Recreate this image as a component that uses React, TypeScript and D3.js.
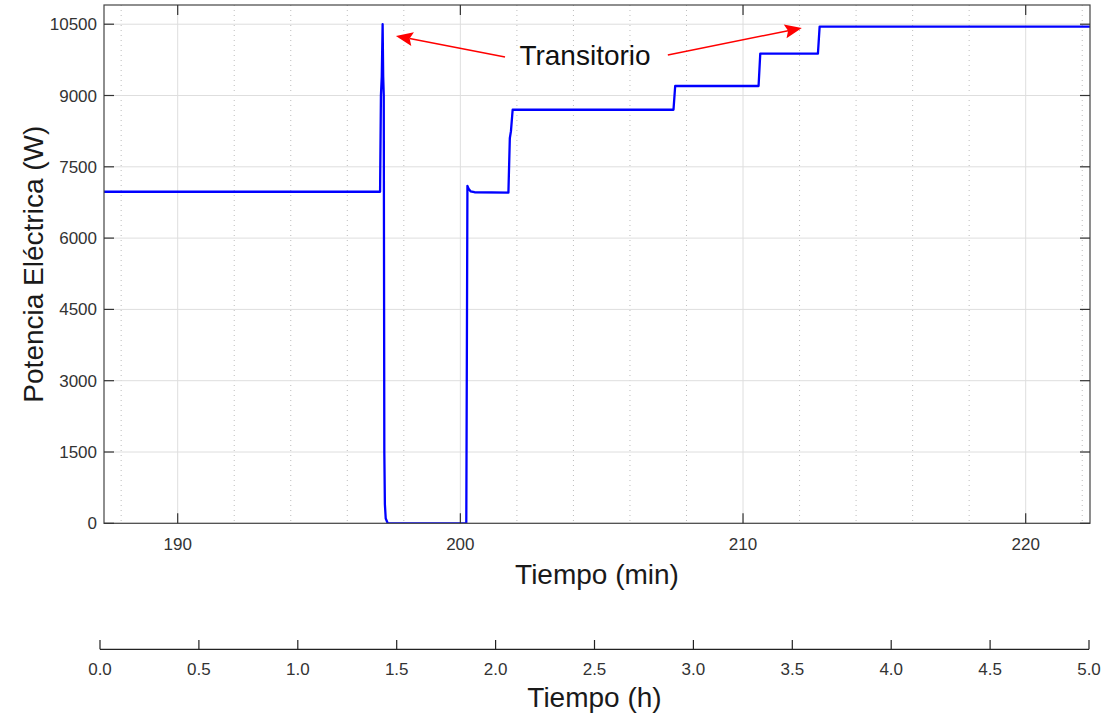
import React from "react";
import * as d3 from "d3";

// Data (time in minutes, electric power in W)
const timeMin: number[] = [
  187.39, 197.16, 197.19, 197.22, 197.25, 197.27, 197.29, 197.31, 197.33, 197.36, 197.43,
  200.21, 200.25, 200.29, 200.36, 200.5, 201.7, 201.75, 201.79, 201.85,
  207.54, 207.6, 210.55, 210.61, 212.65, 212.71, 222.28,
];
const powerW: number[] = [
  6975, 6975, 9000, 9400, 10500, 9400, 9000, 1500, 400, 100, 0,
  0, 7100, 7040, 6985, 6965, 6955, 8100, 8250, 8700,
  8700, 9200, 9200, 9880, 9880, 10450, 10450,
];
const yTicks: number[] = [0, 1500, 3000, 4500, 6000, 7500, 9000, 10500];
const xTicks: number[] = [190, 200, 210, 220];
const xMinorTicks: number[] = [188, 192, 194, 196, 198, 202, 204, 206, 208, 212, 214, 216, 218, 222];
const hourTicks: number[] = [0, 0.5, 1, 1.5, 2, 2.5, 3, 3.5, 4, 4.5, 5];

const W = 1114;
const H = 720;
const L = 104, R = 1090, T = 5, B = 523.3;
const FONT = "'Liberation Sans', Arial, Helvetica, sans-serif";

export default function App() {
  const x = d3.scaleLinear().domain([187.393, 222.275]).range([L, R]);
  const y = d3.scaleLinear().domain([0, 10904]).range([B, T]);
  const xh = d3.scaleLinear().domain([0, 5]).range([100, 1089]);

  const pts: [number, number][] = timeMin.map((t, i) => [t, powerW[i]]);
  const line = d3
    .line<[number, number]>()
    .x((d) => x(d[0]))
    .y((d) => y(d[1]))(pts) as string;

  const arrows = [
    { from: [201.58, 9812], to: [197.72, 10253] },
    { from: [207.34, 9853], to: [212.08, 10422] },
  ];

  const arrowEl = (a: { from: number[]; to: number[] }, i: number) => {
    const x1 = x(a.from[0]), y1 = y(a.from[1]);
    const x2 = x(a.to[0]), y2 = y(a.to[1]);
    const ang = Math.atan2(y2 - y1, x2 - x1);
    const hl = 17, hw = 7;
    const bx = x2 - hl * Math.cos(ang), by = y2 - hl * Math.sin(ang);
    const px = -Math.sin(ang) * hw, py = Math.cos(ang) * hw;
    const back = 3;
    const nx = x2 - (hl - back) * Math.cos(ang), ny = y2 - (hl - back) * Math.sin(ang);
    return (
      <g key={i}>
        <line x1={x1} y1={y1} x2={nx} y2={ny} stroke="#ff0000" strokeWidth={1.5} />
        <path
          d={`M${x2},${y2} L${bx + px},${by + py} L${nx},${ny} L${bx - px},${by - py} Z`}
          fill="#ff0000"
        />
      </g>
    );
  };

  return (
    <svg
      width={W}
      height={H}
      style={{ position: "absolute", left: 0, top: 0, background: "#fff" }}
      fontFamily={FONT}
    >
      <defs>
        <clipPath id="plotclip">
          <rect x={L} y={T} width={R - L} height={B - T} />
        </clipPath>
      </defs>
      <rect x={0} y={0} width={W} height={H} fill="#fff" />
      {/* minor grid */}
      {xMinorTicks.map((t) => (
        <line
          key={"mn" + t}
          x1={x(t)}
          x2={x(t)}
          y1={T}
          y2={B}
          stroke="#bdbdbd"
          strokeWidth={1}
          strokeDasharray="1,4"
        />
      ))}
      {/* major grid */}
      {xTicks.map((t) => (
        <line key={"gx" + t} x1={x(t)} x2={x(t)} y1={T} y2={B} stroke="#dedede" strokeWidth={1} />
      ))}
      {yTicks.map((v) => (
        <line key={"gy" + v} x1={L} x2={R} y1={y(v)} y2={y(v)} stroke="#dedede" strokeWidth={1} />
      ))}
      {/* data line */}
      <path
        d={line}
        fill="none"
        stroke="#0000ff"
        strokeWidth={2.3}
        strokeLinejoin="round"
        clipPath="url(#plotclip)"
      />
      {/* box */}
      <rect x={L} y={T} width={R - L} height={B - T} fill="none" stroke="#444" strokeWidth={1.2} />
      {/* ticks */}
      {xTicks.map((t) => (
        <g key={"tx" + t}>
          <line x1={x(t)} x2={x(t)} y1={B} y2={B - 10} stroke="#333" strokeWidth={1.2} />
          <line x1={x(t)} x2={x(t)} y1={T} y2={T + 10} stroke="#333" strokeWidth={1.2} />
          <text x={x(t)} y={550} textAnchor="middle" fontSize={17} fill="#333">
            {t}
          </text>
        </g>
      ))}
      {yTicks.map((v) => (
        <g key={"ty" + v}>
          <line x1={L} x2={L + 10} y1={y(v)} y2={y(v)} stroke="#333" strokeWidth={1.2} />
          <line x1={R} x2={R - 10} y1={y(v)} y2={y(v)} stroke="#333" strokeWidth={1.2} />
          <text x={97} y={y(v) + 6} textAnchor="end" fontSize={17} fill="#333">
            {v}
          </text>
        </g>
      ))}
      {/* axis titles */}
      <text x={(L + R) / 2} y={584} textAnchor="middle" fontSize={28} fill="#1a1a1a">
        Tiempo (min)
      </text>
      <text
        transform={`translate(43, ${(T + B) / 2}) rotate(-90)`}
        textAnchor="middle"
        fontSize={28}
        fill="#1a1a1a"
      >
        Potencia Eléctrica (W)
      </text>
      {/* annotation */}
      {arrows.map(arrowEl)}
      <text x={585} y={65} textAnchor="middle" fontSize={28} fill="#111">
        Transitorio
      </text>
      {/* secondary hours axis */}
      <line x1={xh(0)} x2={xh(5)} y1={649.3} y2={649.3} stroke="#222" strokeWidth={1.2} />
      {hourTicks.map((h) => (
        <g key={"h" + h}>
          <line x1={xh(h)} x2={xh(h)} y1={649.3} y2={640} stroke="#222" strokeWidth={1.2} />
          <text x={xh(h)} y={675} textAnchor="middle" fontSize={17} fill="#333">
            {h.toFixed(1)}
          </text>
        </g>
      ))}
      <text x={(xh(0) + xh(5)) / 2} y={707} textAnchor="middle" fontSize={28} fill="#1a1a1a">
        Tiempo (h)
      </text>
    </svg>
  );
}
